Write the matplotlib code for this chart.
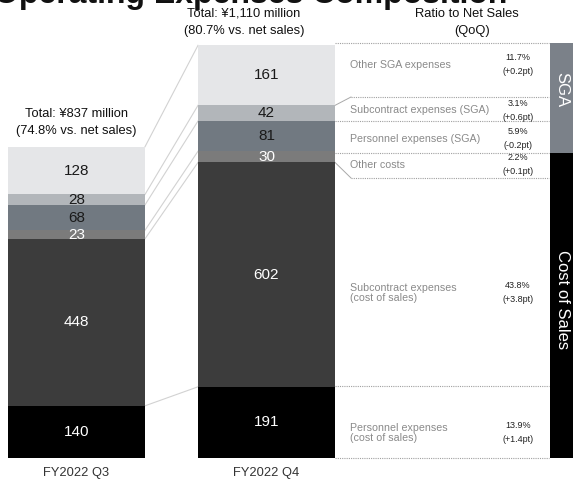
import matplotlib
matplotlib.use("Agg")
import matplotlib.pyplot as plt
import numpy as np

plt.rcParams["font.family"] = ["Liberation Sans", "DejaVu Sans"]

# ---- data -------------------------------------------------------------
categories = ["FY2022 Q3", "FY2022 Q4"]
items = [  # bottom to top
    "Personnel expenses\n(cost of sales)",
    "Subcontract expenses\n(cost of sales)",
    "Other costs",
    "Personnel expenses (SGA)",
    "Subcontract expenses (SGA)",
    "Other SGA expenses",
]
q3_values = [140, 448, 23, 68, 28, 128]
q4_values = [191, 602, 30, 81, 42, 161]
ratio_to_sales = ["13.9%", "43.8%", "2.2%", "5.9%", "3.1%", "11.7%"]
ratio_change = ["(+1.4pt)", "(+3.8pt)", "(+0.1pt)", "(-0.2pt)", "(+0.6pt)", "(+0.2pt)"]
totals = [837, 1110]
pct_of_sales = [74.8, 80.7]
groups = ["SGA", "Cost of Sales"]

# ---- style ------------------------------------------------------------
seg_colors = ["#000000", "#3c3c3c", "#7b7b7b", "#717981", "#b2b6ba", "#e5e6e8"]
num_colors = ["white", "white", "white", "#1a1a1a", "#1a1a1a", "#1a1a1a"]

W, H = 573, 484
BASE_PX = 458                     # pixel row of the zero line
UNIT = 837 / 312                  # value units per pixel
def py(p):
    """pixel row -> value coordinate"""
    return (BASE_PX - p) * UNIT

fig = plt.figure(figsize=(W / 100, H / 100), dpi=100)
ax = fig.add_axes([0, 0, 1, 1])
ax.set_xlim(0, W)
ax.set_ylim(py(H), py(0))
ax.axis("off")

bar_x = [76.5, 266.5]
bar_w = 137
series = [q3_values, q4_values]

# stacked bars
for xc, vals in zip(bar_x, series):
    bottoms = np.concatenate([[0], np.cumsum(vals)[:-1]])
    ax.bar([xc] * len(vals), vals, bottom=bottoms, width=bar_w,
           color=seg_colors, linewidth=0, zorder=2)
    for v, b, c in zip(vals, bottoms, num_colors):
        ax.text(xc, b + v / 2, f"{v}", ha="center", va="center",
                fontsize=11, color=c, zorder=3)

# connectors between the two bars
c3 = np.cumsum(q3_values)
c4 = np.cumsum(q4_values)
x_r3 = bar_x[0] + bar_w / 2
x_l4 = bar_x[1] - bar_w / 2
for a, b in zip(c3, c4):
    ax.plot([x_r3, x_l4], [a, b], color="#d2d2d2", lw=0.8, zorder=1)

# category labels
for xc, cat in zip(bar_x, categories):
    ax.text(xc, py(473), cat, ha="center", va="center", fontsize=9.3, color="#333333")

# totals above bars
total_cx = [76.5, 244]
total_rows = [(114, 131), (14, 31)]
for cx, (r1, r2), t, p in zip(total_cx, total_rows, totals, pct_of_sales):
    ax.text(cx, py(r1), f"Total: ¥{t:,} million", ha="center", va="center",
            fontsize=9.3, color="#111111")
    ax.text(cx, py(r2), f"({p}% vs. net sales)", ha="center", va="center",
            fontsize=9.3, color="#111111")

ax.text(467, py(14), "Ratio to Net Sales", ha="center", va="center", fontsize=9.3, color="#111111")
ax.text(472, py(31), "(QoQ)", ha="center", va="center", fontsize=9.3, color="#111111")

# title strip (runs off the top edge)
ax.text(-6, py(3), "Operating Expenses Composition", ha="left", va="baseline",
        fontsize=23, fontweight="bold", color="#111111", zorder=0)

# ---- breakdown panel ---------------------------------------------------
panel_l, panel_r = x_l4 + bar_w, 549
row_edges_px = [458, 386, 178, 153, 121, 97, 43]
row_edges = [py(p) for p in row_edges_px]
bar_edges = np.concatenate([[0], c4])
dot = dict(color="#a0a0a0", lw=0.8, linestyle=(0, (1, 1)), zorder=1)
for be, re in zip(bar_edges, row_edges):
    if abs(re - be) > 4 * UNIT:
        ax.plot([panel_l, panel_l + 16], [be, re], color="#a8a8a8", lw=0.7, zorder=1)
        ax.plot([panel_l + 16, panel_r], [re, re], **dot)
    else:
        ax.plot([panel_l, panel_r], [re, re], **dot)

label_rows_px = [433, 293, 165, 139, 110, 65]
for lab, rp, r1, r2 in zip(items, label_rows_px, ratio_to_sales, ratio_change):
    ax.text(350, py(rp), lab, ha="left", va="center", fontsize=7.7,
            color="#8a8a8a", linespacing=1.1)
    ax.text(518, py(rp - 7), r1, ha="center", va="center", fontsize=6.5, color="#222222")
    ax.text(518, py(rp + 7), r2, ha="center", va="center", fontsize=6.5, color="#222222")

# group bands on the right edge
band_x = 550
sga_lo, sga_hi = row_edges[3], row_edges[6]
ax.bar(band_x, sga_hi - sga_lo, bottom=sga_lo, width=W - band_x + 5, align="edge",
       color="#7b8189", linewidth=0, zorder=2)
ax.bar(band_x, sga_lo, bottom=0, width=W - band_x + 5, align="edge",
       color="#000000", linewidth=0, zorder=2)
ax.text(562, py(90), groups[0], rotation=270, ha="center", va="center",
        fontsize=12, color="white", zorder=3)
ax.text(562, py(300), groups[1], rotation=270, ha="center", va="center",
        fontsize=12, color="white", zorder=3)

fig.savefig("out.png", dpi=100)
